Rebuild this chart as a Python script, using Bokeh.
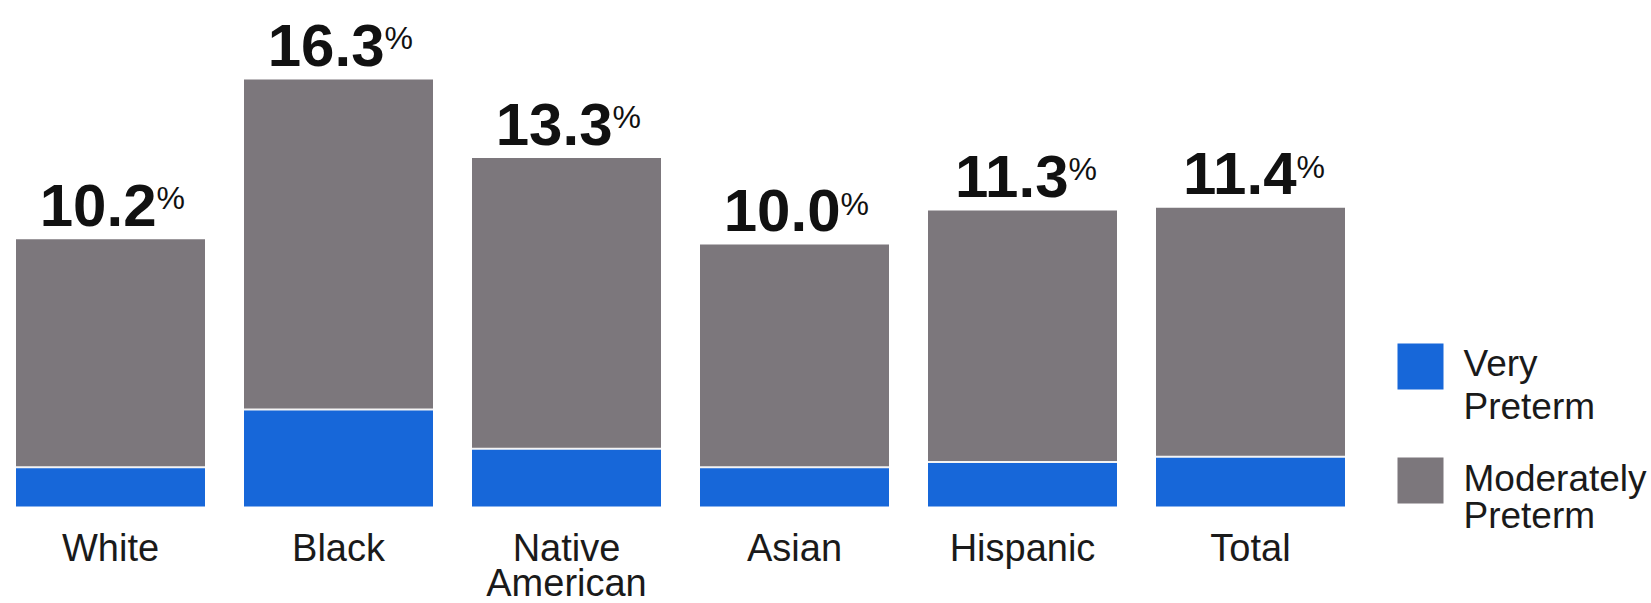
from bokeh.plotting import figure
from bokeh.models import Range1d, ColumnDataSource
from bokeh.core.properties import value
from bokeh.embed import file_html
from bokeh.resources import INLINE

# ---- data ----
categories = ["White", "Black", "Native American", "Asian", "Hispanic", "Total"]
very_preterm = [1.5, 3.7, 2.2, 1.5, 1.7, 1.9]
total_preterm = [10.2, 16.3, 13.3, 10.0, 11.3, 11.4]
moderately_preterm = [round(t - v, 1) for t, v in zip(total_preterm, very_preterm)]
tick_lines = [["White"], ["Black"], ["Native", "American"], ["Asian"], ["Hispanic"], ["Total"]]
legend_labels = [["Very", "Preterm"], ["Moderately", "Preterm"]]

# ---- layout ----
W, H = 1651, 603
X0, DX = 110, 228      # pixel centre of first bar, pixel step between bars
Y0, DY = 506, 26.2     # pixel baseline, pixels per percent
BLUE = "#1767d9"
GRAY = "#7c777c"
TEXT = "#1a1a1a"
NUM_FONT = "Liberation Sans"

def px_x(px):
    return (px - X0) / DX

def px_y(py):
    return (Y0 - py) / DY

p = figure(width=W, height=H, output_backend="svg", toolbar_location=None,
           x_axis_location=None, y_axis_location=None,
           x_range=Range1d(px_x(0), px_x(W)), y_range=Range1d(px_y(H), px_y(0)),
           min_border=0, background_fill_color="white", border_fill_color="white")
p.grid.visible = False
p.outline_line_color = None

xs = list(range(len(categories)))
bar_w = 189 / DX
src = ColumnDataSource(dict(
    x=xs, very=very_preterm, mod=moderately_preterm, total=total_preterm,
    num=[f"{t:.1f}" for t in total_preterm], pct=["%"] * len(categories),
    zero=[0] * len(categories),
    x0=[x - bar_w / 2 for x in xs], x1=[x + bar_w / 2 for x in xs],
))

p.vbar(x="x", bottom="zero", top="very", width=bar_w, source=src,
       fill_color=BLUE, line_color=None)
p.vbar(x="x", bottom="very", top="total", width=bar_w, source=src,
       fill_color=GRAY, line_color=None)
p.segment(x0="x0", x1="x1", y0="very", y1="very", source=src,
          line_color="#f4f4f4", line_width=2)

# value labels
p.text(x="x", y="total", text="num", source=src, text_align="right",
       text_baseline="alphabetic", x_offset=46, y_offset=-34,
       text_font=value(NUM_FONT), text_font_style="bold",
       text_font_size="60px", text_color="#111111")
p.text(x="x", y="total", text="pct", source=src, text_align="left",
       text_baseline="alphabetic", x_offset=46, y_offset=-41,
       text_font=value(NUM_FONT),
       text_font_size="32px", text_color="#111111")

# category labels
for i, lines in enumerate(tick_lines):
    for j, line in enumerate(lines):
        p.text(x=[xs[i]], y=[0], text=[line], text_align="center",
               text_baseline="alphabetic", y_offset=41 + 35 * j,
               text_font=value("Liberation Sans"), text_font_size="38px",
               text_color=TEXT)

# legend
swatch_px = [(1420, 366, BLUE), (1420, 480, GRAY)]
label_base_px = [[363, 406], [478, 515]]
for (sx, sy, col), lines, bases in zip(swatch_px, legend_labels, label_base_px):
    p.rect(x=[px_x(sx)], y=[px_y(sy)], width=46, height=46,
           width_units="screen", height_units="screen",
           fill_color=col, line_color=None)
    for line, b in zip(lines, bases):
        p.text(x=[px_x(1463)], y=[px_y(b)], text=[line], text_align="left",
               text_baseline="alphabetic", text_font=value("Liberation Sans"),
               text_font_size="37px", text_color=TEXT)

open("out.html", "w").write(file_html(p, INLINE))
